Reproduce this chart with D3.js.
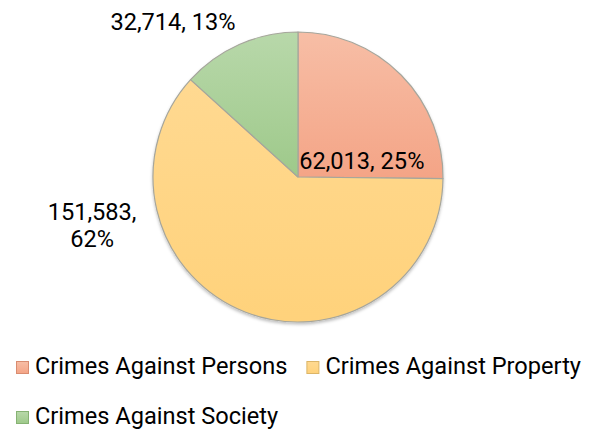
<!DOCTYPE html>
<html>
<head>
<meta charset="utf-8">
<script src="https://cdn.jsdelivr.net/npm/d3@7"></script>
<style>
  body { margin: 0; background: #fff; }
  text { font-family: Roboto, "Noto Sans", sans-serif; fill: #000; }
</style>
</head>
<body>
<div id="chart"></div>
<script>
"use strict";

var categories = ["Crimes Against Persons", "Crimes Against Property", "Crimes Against Society"];
var values = [62013, 151583, 32714];
var colorTop = ["#f7bea6", "#ffd991", "#b8d8aa"];
var colorBottom = ["#f4a486", "#ffd27b", "#9ec98a"];
var swatchStroke = ["#d98c70", "#dcb567", "#86b273"];

var width = 597, height = 430;
var cx = 298, cy = 177, radius = 145;
var fontSize = 23.6;

var svg = d3.select("#chart")
  .append("svg")
  .attr("width", width)
  .attr("height", height);

var defs = svg.append("defs");

categories.forEach(function(c, i) {
  var g = defs.append("linearGradient")
    .attr("id", "grad" + i)
    .attr("x1", 0).attr("y1", 0)
    .attr("x2", 0).attr("y2", 1);
  g.append("stop").attr("offset", "0%").attr("stop-color", colorTop[i]);
  g.append("stop").attr("offset", "100%").attr("stop-color", colorBottom[i]);
});

var shadow = defs.append("filter")
  .attr("id", "shadow")
  .attr("x", "-10%").attr("y", "-10%")
  .attr("width", "120%").attr("height", "120%");
shadow.append("feDropShadow")
  .attr("dx", 0).attr("dy", 2)
  .attr("stdDeviation", 1.5)
  .attr("flood-color", "#000")
  .attr("flood-opacity", 0.25);

var total = d3.sum(values);

var pie = d3.pie().sort(null).value(function(d) { return d; });
var arcs = pie(values);

var arc = d3.arc().innerRadius(0).outerRadius(radius);

var pieG = svg.append("g")
  .attr("transform", "translate(" + cx + "," + cy + ")")
  .attr("filter", "url(#shadow)");

pieG.selectAll("path")
  .data(arcs)
  .enter()
  .append("path")
  .attr("d", arc)
  .attr("fill", function(d, i) { return "url(#grad" + i + ")"; })
  .attr("stroke", "#a6a69c")
  .attr("stroke-width", 1.2)
  .attr("stroke-linejoin", "round");

// data labels, placed roughly like the Excel "best fit" result
var fmt = d3.format(",");
function labelLines(d) {
  var pct = Math.round(d.data / total * 100) + "%";
  if (d.index === 1) return [fmt(d.data) + ",", pct];
  return [fmt(d.data) + ", " + pct];
}
var labelPlace = [
  { dx: 0.44, dy: -0.055 },
  { dx: -1.42, dy: 0.297 },
  { dx: -0.862, dy: -1.014 }
];

svg.selectAll(".dlabel")
  .data(arcs)
  .enter()
  .append("text")
  .attr("class", "dlabel")
  .attr("text-anchor", "middle")
  .style("font-size", fontSize + "px")
  .each(function(d, i) {
    var t = d3.select(this);
    var lines = labelLines(d);
    var x = cx + labelPlace[i].dx * radius;
    var y = cy + labelPlace[i].dy * radius;
    lines.forEach(function(l, k) {
      t.append("tspan")
        .attr("x", x)
        .attr("y", y + k * 27)
        .text(l);
    });
  });

// legend
var legend = svg.append("g");
var rowY = [367.5, 417.5];
var sw = 12;
var nextX = 16;
categories.forEach(function(c, i) {
  var row = i < 2 ? 0 : 1;
  if (i === 2) nextX = 16;
  var item = legend.append("g")
    .attr("transform", "translate(" + nextX + "," + rowY[row] + ")");
  item.append("rect")
    .attr("x", 0.5)
    .attr("y", -sw / 2)
    .attr("width", sw)
    .attr("height", sw)
    .attr("fill", "url(#grad" + i + ")")
    .attr("stroke", swatchStroke[i])
    .attr("stroke-width", 1);
  var txt = item.append("text")
    .attr("x", 19)
    .attr("y", 6.5)
    .style("font-size", fontSize + "px")
    .text(c);
  nextX += 19 + txt.node().getComputedTextLength() + 19;
});
</script>
</body>
</html>
